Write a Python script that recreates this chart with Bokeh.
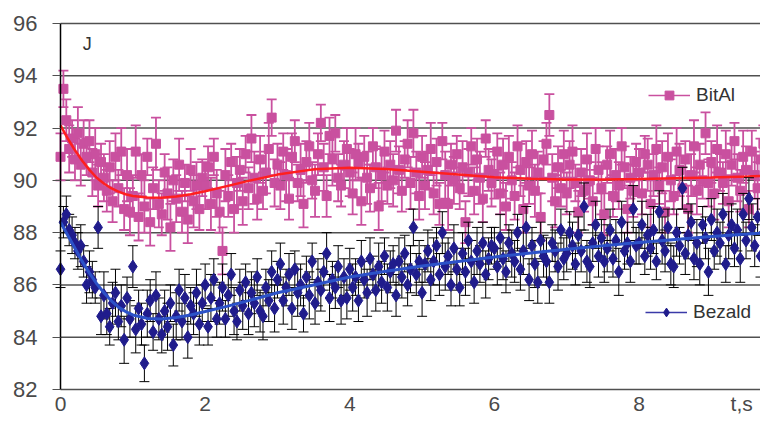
from bokeh.plotting import figure
from bokeh.models import ColumnDataSource, FixedTicker, Legend, LegendItem, Label, Range1d
from bokeh.embed import file_html
from bokeh.resources import INLINE

# ---------------- data ----------------
T_STEP = 0.04  # sampling interval, s

bital = [
    90.9, 93.5, 92.3, 91.2, 91.6, 90.8, 91.8, 90.6, 91.4, 90.9, 91.5, 90.3, 91.0, 89.8, 90.7, 90.1, 89.6, 90.5, 89.2, 90.9, 89.7, 91.1, 88.9, 90.2, 88.8,
    89.4, 91.1, 88.6, 90.2, 89.0, 90.9, 88.4, 89.7, 91.4, 89.1, 88.7, 90.3, 89.5, 88.2, 90.0, 89.3, 90.6, 88.8, 89.9, 88.5, 90.4, 89.2, 89.8, 88.9, 90.1,
    89.8, 90.5, 89.1, 90.9, 89.5, 88.8, 87.3, 90.2, 89.4, 90.7, 88.9, 89.9, 90.4, 89.2, 91.0, 89.7, 91.6, 90.1, 89.3, 90.8, 89.6, 90.3, 91.2, 92.4, 89.9,
    90.6, 89.8, 91.1, 90.2, 89.3, 90.9, 91.5, 89.9, 90.4, 89.1, 90.7, 91.3, 90.0, 89.6, 91.0, 92.2, 90.5, 89.4, 91.7, 90.8, 91.8, 90.1, 89.8, 90.6, 91.2,
    90.3, 89.5, 91.0, 90.7, 89.2, 90.9, 90.1, 89.7, 91.3, 90.5, 89.0, 90.2, 91.1, 89.8, 90.6, 90.0, 91.9, 90.4, 89.6, 90.8, 91.4, 89.9, 91.8, 90.3, 89.4,
    90.9, 89.8, 90.4, 91.2, 89.5, 90.7, 89.1, 91.5, 90.2, 89.1, 90.6, 90.0, 91.0, 89.7, 90.5, 88.4, 90.3, 91.3, 89.6, 90.8, 90.1, 89.3, 91.6, 90.4, 89.9,
    90.2, 91.1, 89.5, 90.6, 89.0, 90.9, 90.0, 89.4, 91.3, 90.4, 88.9, 90.7, 89.8, 91.0, 89.6, 90.3, 88.6, 90.8, 91.4, 92.5, 90.1, 89.2, 90.5, 89.7, 91.0,
    89.5, 90.6, 91.1, 89.9, 88.8, 90.3, 89.6, 90.8, 90.0, 89.2, 91.2, 90.4, 89.7, 88.7, 90.6, 91.0, 89.4, 90.2, 89.8, 91.3, 90.5, 88.9, 90.1, 89.6, 90.7,
    90.3, 89.5, 91.0, 90.6, 89.1, 90.2, 91.2, 89.8, 90.5, 88.8, 90.9, 90.0, 89.4, 91.1, 90.4, 89.7, 90.8, 88.9, 90.2, 91.3, 89.6, 90.6, 90.0, 91.8, 89.9,
    90.7, 89.5, 91.2, 90.3, 89.9, 91.0, 89.2, 90.6, 91.5, 90.1, 89.6, 90.9, 90.4, 88.9, 91.1, 90.2, 89.7, 90.8, 91.4, 89.8, 90.5,
]
bital_err = [
    0.9, 0.7, 0.8, 0.9, 0.7, 0.8, 1.0, 0.8, 0.9, 0.7, 0.8, 0.9, 1.0, 0.8, 0.7, 0.9, 0.8, 1.0, 0.8, 0.9, 0.7, 0.9, 0.8, 1.0, 0.9,
    0.8, 1.0, 0.9, 0.8, 1.0, 0.7, 0.9, 0.8, 1.0, 0.9, 0.8, 0.7, 1.0, 0.9, 0.8, 0.9, 1.0, 0.8, 0.7, 0.9, 0.8, 1.0, 0.9, 0.8, 0.7,
    0.9, 0.8, 1.0, 0.7, 0.9, 0.8, 0.9, 1.0, 0.8, 0.7, 0.9, 1.0, 0.8, 0.9, 0.7, 0.8, 0.9, 1.0, 0.8, 0.9, 0.7, 0.8, 1.0, 0.7, 0.9,
    0.8, 0.9, 0.7, 1.0, 0.8, 0.9, 0.8, 0.7, 1.0, 0.9, 0.8, 0.9, 0.7, 1.0, 0.8, 0.7, 0.9, 0.8, 0.7, 1.0, 0.7, 0.9, 0.8, 0.9, 0.8,
    0.9, 0.8, 1.0, 0.7, 0.9, 0.8, 1.0, 0.9, 0.7, 0.8, 0.9, 1.0, 0.8, 0.7, 0.9, 1.0, 0.8, 0.9, 0.8, 0.7, 0.9, 1.0, 0.9, 0.8, 0.9,
    0.8, 0.9, 0.7, 1.0, 0.8, 0.9, 0.8, 0.7, 0.9, 1.0, 0.8, 0.9, 0.7, 0.8, 1.0, 0.8, 0.9, 0.7, 0.9, 0.8, 1.0, 0.9, 0.7, 0.8, 0.9,
    0.9, 0.7, 0.8, 1.0, 0.9, 0.8, 0.7, 0.9, 0.8, 1.0, 0.9, 0.8, 0.7, 0.9, 1.0, 0.8, 0.9, 0.7, 0.8, 0.8, 0.9, 1.0, 0.8, 0.7, 0.9,
    0.8, 0.9, 1.0, 0.7, 0.8, 0.9, 0.8, 1.0, 0.7, 0.9, 0.8, 0.9, 1.0, 0.8, 0.7, 0.9, 0.8, 1.0, 0.9, 0.7, 0.8, 0.9, 0.8, 1.0, 0.7,
    0.9, 0.8, 0.7, 1.0, 0.9, 0.8, 0.9, 0.7, 1.0, 0.8, 0.9, 0.8, 0.7, 0.9, 1.0, 0.8, 0.7, 0.9, 0.8, 1.0, 0.9, 0.8, 0.7, 0.8, 0.9,
    0.8, 1.0, 0.9, 0.7, 0.8, 0.9, 1.0, 0.8, 0.7, 0.9, 0.8, 1.0, 0.9, 0.7, 0.8, 0.9, 1.0, 0.8, 0.7, 0.9, 0.8,
]

bezald = [
    86.6, 88.4, 88.7, 88.1, 87.9, 87.6, 87.3, 87.5, 86.9, 86.0, 86.5, 86.2, 85.9, 88.2, 84.8, 85.6, 84.9, 84.4, 85.3, 85.7, 84.6, 85.2, 83.9, 85.5, 84.7,
    86.7, 84.3, 85.1, 84.5, 83.0, 84.9, 85.4, 84.2, 85.6, 84.7, 84.1, 85.0, 84.4, 85.3, 83.7, 84.8, 85.8, 84.6, 85.5, 84.0, 85.2, 84.9, 85.7, 84.5, 85.3,
    86.0, 84.4, 85.5, 86.2, 84.7, 85.3, 85.9, 84.7, 85.6, 86.4, 85.0, 84.6, 85.8, 85.2, 86.1, 84.9, 85.7, 85.3, 86.3, 85.0, 84.8, 85.9, 85.4, 86.5, 85.1,
    86.2, 86.8, 85.4, 85.9, 86.4, 85.1, 86.6, 85.7, 86.0, 84.9, 86.3, 85.6, 86.9, 85.3, 86.1, 85.8, 86.5, 87.2, 85.5, 86.2, 85.9, 86.7, 85.4, 86.3, 85.5,
    86.6, 85.9, 86.3, 85.4, 86.9, 86.2, 85.7, 87.0, 86.4, 85.8, 86.7, 86.1, 87.1, 85.9, 86.5, 86.8, 85.6, 86.9, 86.3, 87.2, 86.0, 86.6, 88.2, 86.4, 86.9,
    85.7, 86.8, 87.3, 86.2, 86.9, 87.5, 86.4, 88.0, 86.7, 87.1, 86.0, 87.4, 86.6, 85.9, 87.2, 86.5, 87.7, 86.9, 86.1, 87.3, 86.8, 87.6, 86.4, 87.0, 87.5,
    87.4, 86.7, 87.8, 87.0, 86.5, 87.6, 87.2, 86.9, 88.0, 86.6, 87.3, 88.2, 86.2, 87.5, 86.8, 86.1, 87.7, 87.1, 86.9, 86.1, 87.6, 87.3, 86.7, 88.1, 87.0,
    87.2, 88.0, 87.5, 86.8, 87.9, 87.3, 89.0, 86.9, 86.7, 87.6, 88.3, 87.1, 87.8, 86.9, 87.4, 88.1, 87.0, 87.7, 86.5, 88.4, 87.3, 87.6, 86.9, 88.9, 87.5,
    87.6, 88.3, 87.1, 87.9, 87.4, 88.1, 86.9, 88.8, 87.7, 87.3, 88.2, 86.8, 86.7, 88.0, 87.5, 89.7, 87.2, 87.9, 88.4, 87.0, 87.6, 86.8, 88.3, 87.8, 86.5,
    88.5, 87.3, 88.0, 87.6, 88.7, 86.8, 87.9, 88.3, 87.4, 88.1, 87.0, 88.7, 87.7, 89.3, 88.2, 87.5, 88.6, 87.1, 88.0, 88.4, 87.8,
]
bezald_err = [
    0.7, 0.6, 0.7, 0.6, 0.7, 0.6, 0.7, 0.8, 0.6, 0.7, 0.8, 0.7, 0.6, 0.8, 0.7, 0.9, 0.8, 0.7, 0.8, 0.9, 0.7, 0.8, 0.9, 0.8, 0.7,
    0.8, 0.9, 0.7, 0.8, 0.7, 0.9, 0.8, 0.7, 0.9, 0.8, 0.7, 0.8, 0.9, 0.7, 0.8, 0.9, 0.8, 0.7, 0.9, 0.8, 0.7, 0.8, 0.9, 0.8, 0.7,
    0.8, 0.7, 0.9, 0.8, 0.7, 0.8, 0.9, 0.7, 0.8, 0.8, 0.9, 0.7, 0.8, 0.9, 0.7, 0.8, 0.8, 0.9, 0.7, 0.8, 0.9, 0.7, 0.8, 0.8, 0.9,
    0.7, 0.8, 0.9, 0.7, 0.8, 0.8, 0.7, 0.9, 0.8, 0.7, 0.8, 0.9, 0.7, 0.8, 0.9, 0.8, 0.7, 0.8, 0.9, 0.7, 0.8, 0.8, 0.9, 0.7, 0.8,
    0.8, 0.9, 0.7, 0.8, 0.8, 0.7, 0.9, 0.8, 0.7, 0.8, 0.9, 0.8, 0.7, 0.9, 0.8, 0.7, 0.8, 0.9, 0.8, 0.7, 0.8, 0.9, 0.7, 0.8, 0.8,
    0.9, 0.7, 0.8, 0.8, 0.9, 0.7, 0.8, 0.8, 0.9, 0.7, 0.8, 0.9, 0.8, 0.7, 0.8, 0.9, 0.7, 0.8, 0.8, 0.9, 0.7, 0.8, 0.9, 0.8, 0.7,
    0.8, 0.7, 0.9, 0.8, 0.8, 0.7, 0.9, 0.8, 0.7, 0.8, 0.9, 0.8, 0.8, 0.7, 0.9, 0.8, 0.7, 0.8, 0.9, 0.8, 0.7, 0.8, 0.9, 0.8, 0.8,
    0.7, 0.8, 0.9, 0.8, 0.7, 0.8, 0.9, 0.8, 0.8, 0.7, 0.9, 0.8, 0.7, 0.8, 0.9, 0.8, 0.7, 0.8, 0.9, 0.8, 0.7, 0.8, 0.8, 0.9, 0.7,
    0.8, 0.9, 0.7, 0.8, 0.8, 0.9, 0.7, 0.8, 0.9, 0.8, 0.7, 0.8, 0.8, 0.9, 0.7, 0.8, 0.8, 0.9, 0.7, 0.8, 0.9, 0.8, 0.7, 0.8, 0.9,
    0.8, 0.7, 0.9, 0.8, 0.8, 0.7, 0.9, 0.8, 0.7, 0.8, 0.9, 0.8, 0.7, 0.8, 0.9, 0.8, 0.7, 0.8, 0.9, 0.8, 0.7,
]

# fitted trend curves (knots)
fit_t = [0, 0.1, 0.2, 0.3, 0.4, 0.5, 0.6, 0.7, 0.8, 0.9, 1.0, 1.2, 1.4, 1.6, 1.8, 2.0, 2.3, 2.6,
         3.0, 3.5, 4.0, 4.5, 5.0, 5.5, 6.0, 6.5, 7.0, 7.5, 8.0, 8.5, 9.0, 9.5, 9.8]
bital_fit = [92.1, 91.6, 91.15, 90.75, 90.4, 90.1, 89.88, 89.7, 89.57, 89.47, 89.4, 89.34, 89.33, 89.38,
             89.47, 89.58, 89.78, 89.98, 90.22, 90.42, 90.48, 90.43, 90.33, 90.22, 90.12, 90.06, 90.03,
             90.03, 90.05, 90.08, 90.11, 90.15, 90.18]
bezald_fit = [88.4, 87.9, 87.4, 86.9, 86.45, 86.05, 85.7, 85.4, 85.15, 84.98, 84.85, 84.72, 84.7, 84.75,
              84.85, 84.98, 85.18, 85.4, 85.7, 86.0, 86.3, 86.52, 86.72, 86.9, 87.07, 87.22, 87.36,
              87.5, 87.62, 87.74, 87.85, 87.95, 88.0]

y_ticks = [82, 84, 86, 88, 90, 92, 94, 96]
x_ticks = [0, 2, 4, 6, 8]
x_unit_pos = 9.42
x_unit_label = "t,s"
y_title = "J"

# ---------------- styles ----------------
PINK = "#c9509f"
NAVY = "#201c8c"
RED = "#ff1f1f"
BLUE = "#2c52c8"
GRID = "#505050"
FONT = "Liberation Sans"
LABEL_COLOR = "#4a4a4a"

# the frame fills the whole canvas; both axes are pinned inside it
Y_MIN, Y_MAX = 80.89, 96.88
X_MIN, X_MAX = -0.83, 9.68


def make_source(vals, errs):
    n = min(len(vals), len(errs))
    t = [round(i * T_STEP, 2) for i in range(n)]
    return ColumnDataSource(dict(
        t=t, y=vals[:n],
        lo=[vals[i] - errs[i] for i in range(n)],
        hi=[vals[i] + errs[i] for i in range(n)],
    ))


src_a = make_source(bital, bital_err)
src_b = make_source(bezald, bezald_err)

p = figure(width=760, height=418, output_backend="svg", toolbar_location=None,
           x_range=Range1d(X_MIN, X_MAX), y_range=Range1d(Y_MIN, Y_MAX),
           min_border_left=0, min_border_right=0, min_border_top=0, min_border_bottom=0)
p.background_fill_color = "white"
p.border_fill_color = "white"
p.outline_line_color = None

# horizontal grid lines, starting at the y axis (t = 0)
p.xgrid.grid_line_color = None
p.ygrid.grid_line_color = None
p.segment(x0=[0] * len(y_ticks), y0=y_ticks, x1=[X_MAX] * len(y_ticks), y1=y_ticks,
          line_color=GRID, line_width=1.5)

# y axis pinned at t = 0
p.yaxis.fixed_location = 0
p.yaxis.ticker = FixedTicker(ticks=y_ticks)
p.yaxis.bounds = (min(y_ticks), max(y_ticks))
p.yaxis.axis_line_color = "black"
p.yaxis.axis_line_width = 1.5
p.yaxis.major_tick_out = 8
p.yaxis.major_tick_in = 0
p.yaxis.major_tick_line_color = GRID
p.yaxis.minor_tick_line_color = None
p.yaxis.major_label_text_font = FONT
p.yaxis.major_label_text_font_size = "22px"
p.yaxis.major_label_text_color = LABEL_COLOR
p.yaxis.major_label_standoff = 15

# x axis pinned to the 82 line
p.xaxis.fixed_location = min(y_ticks)
p.xaxis.ticker = FixedTicker(ticks=x_ticks + [x_unit_pos])
p.xaxis.major_label_overrides = {x_unit_pos: x_unit_label}
p.xaxis.axis_line_color = None
p.xaxis.major_tick_line_color = None
p.xaxis.major_tick_out = 0
p.xaxis.major_tick_in = 0
p.xaxis.minor_tick_line_color = None
p.xaxis.minor_tick_out = 0
p.xaxis.major_label_text_font = FONT
p.xaxis.major_label_text_font_size = "21px"
p.xaxis.major_label_text_color = LABEL_COLOR
p.xaxis.major_label_standoff = 3

# BitAl series
p.segment(x0="t", y0="lo", x1="t", y1="hi", source=src_a, line_color=PINK, line_width=1.8)
p.scatter(x="t", y="lo", source=src_a, marker="dash", size=10, line_color=PINK, line_width=1.8)
p.scatter(x="t", y="hi", source=src_a, marker="dash", size=10, line_color=PINK, line_width=1.8)
r_a = p.scatter(x="t", y="y", source=src_a, marker="square", size=9,
                fill_color=PINK, line_color=PINK)
p.line(fit_t, bital_fit, line_color=RED, line_width=2.5)

# Bezald series
p.segment(x0="t", y0="lo", x1="t", y1="hi", source=src_b, line_color="black", line_width=1)
p.scatter(x="t", y="lo", source=src_b, marker="dash", size=10, line_color="black", line_width=1)
p.scatter(x="t", y="hi", source=src_b, marker="dash", size=10, line_color="black", line_width=1)
r_b = p.scatter(x="t", y="y", source=src_b, marker="diamond", size=13,
                fill_color=NAVY, line_color=NAVY)
p.line(fit_t, bezald_fit, line_color=BLUE, line_width=3)

# legend glyph lines (no visible data)
nan = float("nan")
la = p.line([nan], [nan], line_color=PINK, line_width=1.5)
lb = p.line([nan], [nan], line_color="#3a3aa8", line_width=1.5)


def make_legend(label, rends, loc):
    lg = Legend(items=[LegendItem(label=label, renderers=rends)], location=loc,
                background_fill_alpha=0, border_line_color=None, padding=0, margin=0,
                spacing=0, glyph_width=42, glyph_height=22, label_height=22,
                label_standoff=6, label_text_font=FONT, label_text_font_size="19px",
                label_text_color="#333333")
    p.add_layout(lg, "center")


make_legend("BitAl", [la, r_a], (648, 312))
make_legend("Bezald", [lb, r_b], (645, 95))

p.add_layout(Label(x=0.37, y=95.23, text=y_title, text_font=FONT, text_font_size="18px",
                   text_align="center", text_baseline="middle", text_color="#333333"))

open("out.html", "w").write(file_html(p, INLINE))
